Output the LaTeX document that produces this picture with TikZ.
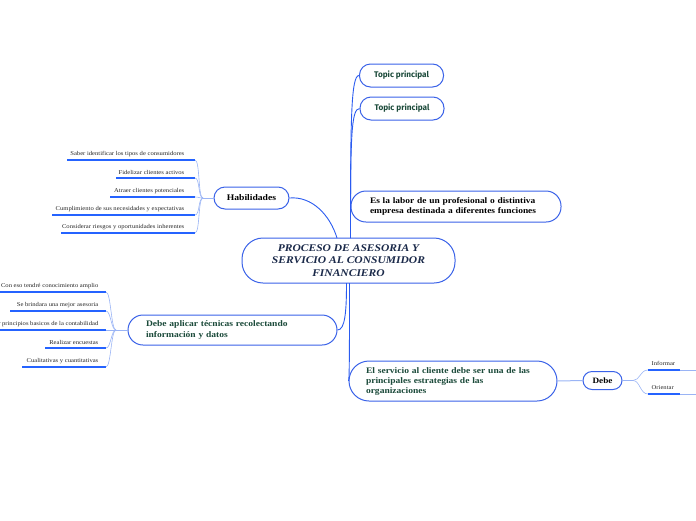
\documentclass[tikz,border=0pt]{standalone}
\usepackage{fontspec}
\setmainfont{Liberation Serif}[FakeStretch=1.12]
\newfontfamily\topicfont{Fira Sans}
\definecolor{bord}{HTML}{3A62E8}
\definecolor{lnk}{HTML}{2A5BF0}
\definecolor{fork}{HTML}{9AB4F5}
\definecolor{uline}{HTML}{2563FF}
\definecolor{navy}{HTML}{1B2A4A}
\definecolor{dgreen}{HTML}{1B4A3A}
\tikzset{
  box/.style={draw=bord, line width=1pt, fill=white, rounded corners=#1, inner ysep=0pt},
  link/.style={draw=lnk, line width=0.9pt},
  forkl/.style={draw=fork, line width=0.6pt},
  ul/.style={draw=uline, line width=2pt},
  leaf/.style={font=\fontsize{5.9}{7}\selectfont, anchor=south east, inner sep=0.5pt, text=black!85},
  leafr/.style={font=\fontsize{5.9}{7}\selectfont, anchor=south west, inner sep=0.5pt, text=black!85},
}
\begin{document}
\begin{tikzpicture}[x=1pt,y=-1pt]
\useasboundingbox (0,0) rectangle (696,520);
% central
\node[box=21, minimum width=213pt, minimum height=45pt, align=center, text=navy,
  font=\fontsize{10.3}{12.5}\selectfont\bfseries\itshape] (C) at (348.5,260.5)
  {PROCESO DE ASESORIA Y\\SERVICIO AL CONSUMIDOR\\FINANCIERO};
% topics
\node[box=11, minimum width=84pt, minimum height=23pt, text=dgreen,
  font=\topicfont\fontsize{8.2}{9}\selectfont\bfseries] (T1) at (401.5,75.5) {Topic principal};
\node[box=11, minimum width=84pt, minimum height=23pt, text=dgreen,
  font=\topicfont\fontsize{8.2}{9}\selectfont\bfseries] (T2) at (402,108.5) {Topic principal};
\node[box=15, minimum height=31pt, inner xsep=19pt, text width=172pt, align=left, text=black,
  font=\fontsize{8.4}{10}\selectfont\bfseries] (E) at (456,206.5)
  {Es la labor de un profesional o distintiva\\empresa destinada a diferentes funciones};
\node[box=11, minimum width=75pt, minimum height=22pt, text=black,
  font=\fontsize{8.6}{10}\selectfont\bfseries] (H) at (251.5,198) {Habilidades};
\node[box=15, minimum height=30pt, inner xsep=18pt, text width=173pt, align=left, text=dgreen,
  font=\fontsize{8.5}{10.5}\selectfont\bfseries] (D) at (232.5,330)
  {Debe aplicar técnicas recolectando\\información y datos};
\node[box=20, minimum height=40pt, inner xsep=17pt, text width=174pt, align=left, text=dgreen,
  font=\fontsize{8.5}{10}\selectfont\bfseries] (S) at (453,381)
  {El servicio al cliente debe ser una de las\\principales estrategias de las\\organizaciones};
\node[box=9, minimum width=39pt, minimum height=18pt, text=black,
  font=\fontsize{8.2}{9}\selectfont\bfseries] (B) at (602.5,380.5) {Debe};

% main connectors
\coordinate (cT1) at (350.5,238);
\coordinate (cT2) at (337,238);
\coordinate (cB1) at (346.5,283);
\coordinate (cB2) at (349.5,283);
\draw[link] (cT1) .. controls (350.5,120) and (351,75.5) .. (T1.west);
\draw[link] (cT1) .. controls (350.5,140) and (351,108.5) .. (T2.west);
\draw[link] (cT1) .. controls (350.5,220) and (350.5,206.5) .. (E.west);
\draw[link] (H.east) .. controls (312,196) and (330,215) .. (cT2);
\draw[link] (cB1) .. controls (346.5,312) and (345,330) .. (D.east);
\draw[link] (cB2) .. controls (349.5,340) and (349.5,381) .. (S.west);
\draw[forkl, line width=1pt] (S.east) -- (B.west);

% Habilidades leaves
\coordinate (hh) at (203,198);
\draw[forkl] (H.west) -- (hh);
\foreach \n/\y/\xl/\t in {h1/160/67/{Saber identificar los tipos de consumidores},
  h2/178/116/{Fidelizar clientes activos},
  h3/197/110/{Atraer clientes potenciales},
  h4/215/52/{Cumplimiento de sus necesidades y expectativas},
  h5/233/61/{Considerar riesgos y oportunidades inherentes}}{
  \coordinate (\n r) at (195,\y);
  \coordinate (\n l) at (\xl,\y);
  \draw[ul] (\n l) -- (\n r);
  \draw[forkl] (hh) .. controls (198,198) and (200,\y) .. (\n r);
  \node[leaf] (\n) at (185,\y-2.5) {\t};
}

% Debe aplicar leaves
\coordinate (dh) at (116,330);
\draw[forkl] (D.west) -- (dh);
\foreach \n/\y/\xl/\t in {d1/292/-2/{Con eso tendré conocimiento amplio},
  d2/311/10/{Se brindara una mejor asesoria},
  d3/330/-2/{Aplicar principios basicos de la contabilidad},
  d4/348/45/{Realizar encuestas},
  d5/367/22/{Cualitativas y cuantitativas}}{
  \coordinate (\n r) at (106,\y);
  \coordinate (\n l) at (\xl,\y);
  \draw[ul] (\n l) -- (\n r);
  \draw[forkl] (dh) .. controls (111,330) and (111,\y) .. (\n r);
  \node[leaf] (\n) at (99,\y-2.5) {\t};
}

% Debe leaves
\coordinate (bh) at (633,380.5);
\draw[forkl, line width=1pt] (B.east) -- (bh);
\foreach \n/\y/\t in {b1/370/{Informar}, b2/394/{Orientar}}{
  \coordinate (\n l) at (648,\y);
  \coordinate (\n m) at (680,\y);
  \coordinate (\n r) at (696,\y);
  \draw[forkl] (bh) .. controls (640,380.5) and (640,\y) .. (\n l);
  \draw[ul] (\n l) -- (\n m);
  \draw[forkl, line width=1pt] (\n m) -- (\n r);
  \node[leafr] (\n) at (651,\y-3.5) {\t};
}
\end{tikzpicture}
\end{document}
